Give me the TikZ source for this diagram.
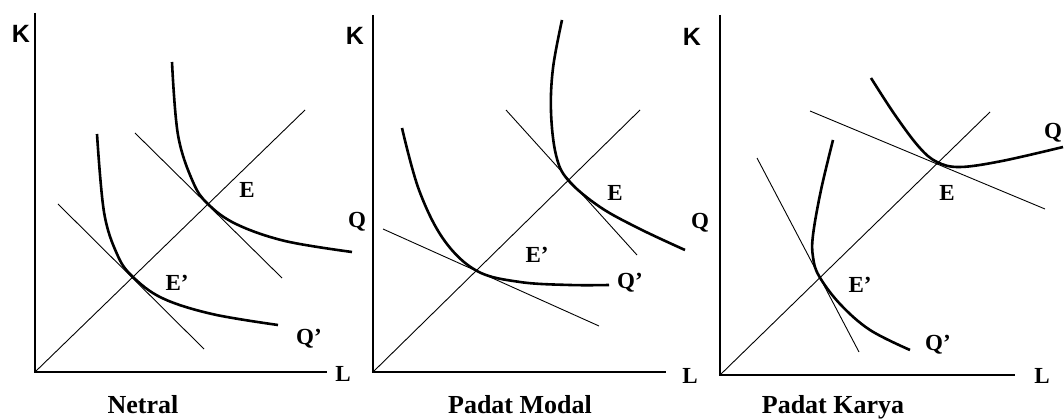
\documentclass[tikz,border=0pt]{standalone}
\usepackage{fontspec}
\setmainfont{Liberation Serif}
\newfontfamily\axfont{Liberation Sans}
\usepackage{tikz}

\begin{document}
\begin{tikzpicture}[
    x=1pt, y=-1pt,
    every node/.style={inner sep=0pt, font=\fontsize{23}{23}\selectfont\bfseries},
    axis/.style={line width=1.8pt},
    ray/.style={line width=0.9pt},
    tline/.style={line width=0.9pt},
    isoq/.style={line width=2.6pt, smooth, tension=0.6},
    klbl/.style={font=\fontsize{25}{25}\selectfont\axfont\bfseries},
    ttl/.style={anchor=base, font=\fontsize{26}{26}\selectfont\bfseries}
  ]
    \useasboundingbox (0,0) rectangle (1064,419);

    % Netral
    \coordinate (o1) at (35,372);
    \draw[axis] (35,13) -- (o1) -- (327,372);
    \draw[ray] (o1) -- (305,110);
    \draw[tline] (135,133) -- (282,278);
    \draw[tline] (58,204) -- (204,349);
    \draw[isoq] plot coordinates {(172,62) (178,135) (193,182) (208,204) (236,224) (285,241) (352,252)};
    \draw[isoq] plot coordinates {(97,134) (104,212) (117,254) (132,276) (162,298) (212,314) (278,325)};
    \node[klbl] (k1) at (21,34) {K};
    \node (l1) at (343,374) {L};
    \node (e1) at (247,190) {E};
    \node (ep1) at (177,283) {E'};
    \node (qp1) at (309,339) {Q'};
    \node (q1) at (357,222) {Q};
    \node[ttl] (t1) at (143,413) {Netral};

    % Padat Modal
    \coordinate (o2) at (373,372);
    \draw[axis] (373,15) -- (o2) -- (666,372);
    \draw[ray] (o2) -- (640,110);
    \draw[tline] (506,110) -- (637,255);
    \draw[tline] (383,229) -- (599,326);
    \draw[isoq] plot coordinates {(562,20) (553,68) (551,112) (556,155) (568,180) (600,207) (640,229) (685,250)};
    \draw[isoq] plot coordinates {(402,128) (419,190) (444,240) (477,271) (520,282) (570,285) (609,285)};
    \node[klbl] (k2) at (355,36) {K};
    \node (l2) at (690,376) {L};
    \node (e2) at (615,193) {E};
    \node (ep2) at (537,255) {E'};
    \node (qp2) at (630,283) {Q'};
    \node (q2) at (700,223) {Q};
    \node[ttl] (t2) at (520,413) {Padat Modal};

    % Padat Karya
    \coordinate (o3) at (720,375);
    \draw[axis] (720,15) -- (o3) -- (1015,375);
    \draw[ray] (o3) -- (990,112);
    \draw[tline] (810,111) -- (1045,209);
    \draw[tline] (757,158) -- (859,352);
    \draw[isoq] plot coordinates {(871,78) (895,115) (919,147) (937,162) (960,167) (1002,161) (1063,147)};
    \draw[isoq] plot coordinates {(833,140) (821,190) (813,235) (813,257) (819,276) (840,304) (870,330) (910,350)};
    \node[klbl] (k3) at (692,37) {K};
    \node (l3) at (1042,376) {L};
    \node (e3) at (947,193) {E};
    \node (ep3) at (860,285) {E'};
    \node (qp3) at (938,345) {Q'};
    \node (q3) at (1053,133) {Q};
    \node[ttl] (t3) at (833,413) {Padat Karya};
\end{tikzpicture}
\end{document}
